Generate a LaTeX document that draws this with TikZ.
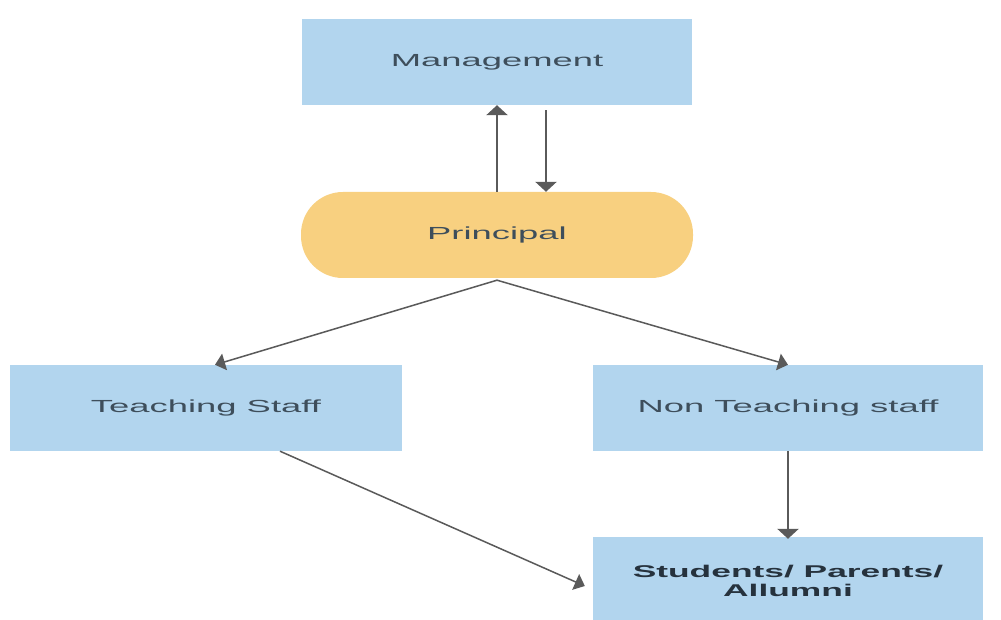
\documentclass[tikz,border=0pt]{standalone}
\usepackage{fontspec}
\setmainfont[FakeStretch=2.08]{Liberation Sans}
\usetikzlibrary{arrows.meta}
\definecolor{boxblue}{HTML}{B2D5EE}
\definecolor{prinyel}{HTML}{F8D080}
\definecolor{txt}{HTML}{3E4E5B}
\definecolor{txtb}{HTML}{26323D}
\definecolor{arr}{HTML}{5A5A5A}
\tikzset{
  box/.style={rectangle, fill=boxblue, draw=none, minimum width=390pt, minimum height=86pt, inner sep=0pt, text=txt, font=\fontsize{17.5}{20}\selectfont},
  pill/.style={rectangle, rounded corners=42pt, fill=prinyel, draw=none, minimum width=392pt, minimum height=86pt, inner sep=0pt, text=txt, font=\fontsize{17.5}{20}\selectfont},
  conn/.style={draw=arr, line width=1.5pt, -{Triangle[width=17pt,length=10pt]}},
  vconn/.style={draw=arr, line width=2.6pt, -{Triangle[width=21pt,length=10pt]}}
}
\begin{document}
\begin{tikzpicture}[x=1pt,y=-1pt]
\useasboundingbox (0,0) rectangle (1001,620);
\fill[white] (0,0) rectangle (1001,620);
\node[box] (mgmt) at (497,62) {Management};
\node[pill] (prin) at (497,235) {Principal};
\node[box, minimum width=392pt] (teach) at (206,408) {Teaching Staff};
\node[box] (nonteach) at (788,408) {Non Teaching staff};
\node[box, minimum height=88pt, text=txtb, font=\bfseries\fontsize{17}{20}\selectfont, align=center] (stud) at (788,581) {Students/ Parents/\\[-1pt]Allumni};
\draw[vconn] (prin.north) -- (mgmt.south);
\draw[vconn] ([xshift=49pt,yshift=-5pt]mgmt.south) -- ([xshift=49pt]mgmt.south |- prin.north);
\draw[conn] ([yshift=-2pt]prin.south) -- ([xshift=9pt]teach.north);
\draw[conn] ([yshift=-2pt]prin.south) -- (nonteach.north);
\draw[vconn] (nonteach.south) -- ([yshift=-2pt]stud.north);
\draw[conn] ([xshift=74pt]teach.south) -- ([xshift=-8pt,yshift=-5pt]stud.west);
\end{tikzpicture}
\end{document}
